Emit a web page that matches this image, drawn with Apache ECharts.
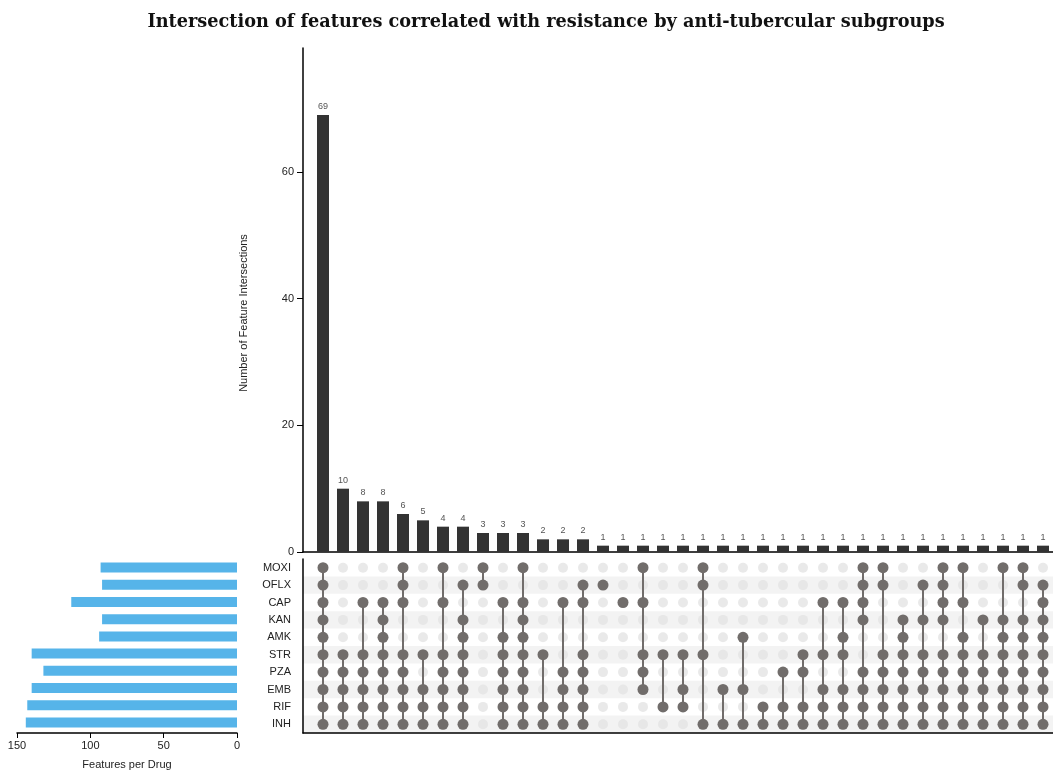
<!DOCTYPE html>
<html>
<head>
<meta charset="utf-8">
<script src="https://cdn.jsdelivr.net/npm/echarts@6/dist/echarts.min.js"></script>
<style>
  html, body { margin: 0; padding: 0; background: #fff; }
  #chart { width: 1053px; height: 771px; }
</style>
</head>
<body>
<div id="chart"></div>
<script>
// ---- data ----
const drugs = ['MOXI','OFLX','CAP','KAN','AMK','STR','PZA','EMB','RIF','INH'];
const drugTotals = [93, 92, 113, 92, 94, 140, 132, 140, 143, 144];
const intersectionSizes = [69,10,8,8,6,5,4,4,3,3,3,2,2,2,
  1,1,1,1,1,1,1,1,1,1,1,1,1,1,1,1,1,1,1,1,1,1,1];
const intersectionSets = [
  ['MOXI','OFLX','CAP','KAN','AMK','STR','PZA','EMB','RIF','INH'],
  ['STR','PZA','EMB','RIF','INH'],
  ['CAP','STR','PZA','EMB','RIF','INH'],
  ['CAP','KAN','AMK','STR','PZA','EMB','RIF','INH'],
  ['MOXI','OFLX','CAP','STR','PZA','EMB','RIF','INH'],
  ['STR','EMB','RIF','INH'],
  ['MOXI','CAP','STR','PZA','EMB','RIF','INH'],
  ['OFLX','KAN','AMK','STR','PZA','EMB','RIF','INH'],
  ['MOXI','OFLX'],
  ['CAP','AMK','STR','PZA','EMB','RIF','INH'],
  ['MOXI','CAP','KAN','AMK','STR','PZA','EMB','RIF','INH'],
  ['STR','RIF','INH'],
  ['CAP','PZA','EMB','RIF','INH'],
  ['OFLX','CAP','STR','PZA','EMB','RIF','INH'],
  ['OFLX'],
  ['CAP'],
  ['MOXI','CAP','STR','PZA','EMB'],
  ['STR','RIF'],
  ['STR','EMB','RIF'],
  ['MOXI','OFLX','STR','INH'],
  ['EMB','INH'],
  ['AMK','EMB','INH'],
  ['RIF','INH'],
  ['PZA','RIF','INH'],
  ['STR','PZA','RIF','INH'],
  ['CAP','STR','EMB','RIF','INH'],
  ['CAP','AMK','STR','EMB','RIF','INH'],
  ['MOXI','OFLX','CAP','KAN','PZA','EMB','RIF','INH'],
  ['MOXI','OFLX','STR','PZA','EMB','RIF','INH'],
  ['KAN','AMK','STR','PZA','EMB','RIF','INH'],
  ['OFLX','KAN','STR','PZA','EMB','RIF','INH'],
  ['MOXI','OFLX','CAP','KAN','STR','PZA','EMB','RIF','INH'],
  ['MOXI','CAP','AMK','STR','PZA','EMB','RIF','INH'],
  ['KAN','STR','PZA','EMB','RIF','INH'],
  ['MOXI','KAN','AMK','STR','PZA','EMB','RIF','INH'],
  ['MOXI','OFLX','KAN','AMK','STR','PZA','EMB','RIF','INH'],
  ['OFLX','CAP','KAN','AMK','STR','PZA','EMB','RIF','INH']
];
const topTicks = [0, 20, 40, 60];
const leftTicks = [0, 50, 100, 150];

// ---- build options ----
const DOT = '#716d6b';
const LIGHT = '#e3e3e3';
const FONT = 'Liberation Sans, Arial, sans-serif';
const nCols = intersectionSizes.length;

const barData = intersectionSizes.map((v, i) => [i, v]);
const lightDots = [];
for (let i = 0; i < nCols; i++) for (const d of drugs) lightDots.push([i, d]);

const series = [
  {
    type: 'bar', xAxisIndex: 0, yAxisIndex: 0,
    data: barData, barWidth: 12,
    itemStyle: { color: '#333333' },
    label: { show: true, position: 'top', distance: 4, fontSize: 9, color: '#555', fontFamily: FONT },
    silent: true
  },
  {
    type: 'scatter', xAxisIndex: 1, yAxisIndex: 1,
    data: lightDots, symbolSize: 10,
    itemStyle: { color: LIGHT }, silent: true, z: 2
  },
  {
    type: 'bar', xAxisIndex: 2, yAxisIndex: 2,
    data: drugTotals, barWidth: 10,
    itemStyle: { color: '#56b4e9' }, silent: true
  }
];
intersectionSets.forEach((set, i) => {
  const pts = drugs.filter(d => set.includes(d)).map(d => [i, d]);
  series.push({
    type: 'line', xAxisIndex: 1, yAxisIndex: 1,
    data: pts, symbol: 'circle', symbolSize: 11, showSymbol: true,
    lineStyle: { color: DOT, width: 2 },
    itemStyle: { color: DOT, borderWidth: 0 },
    silent: true, animation: false, z: 3
  });
});

const option = {
  animation: false,
  title: {
    text: 'Intersection of features correlated with resistance by anti-tubercular subgroups',
    left: 541, top: 8, textAlign: 'center',
    textStyle: { fontFamily: 'DejaVu Serif, serif', fontWeight: 'bold', fontSize: 17.7, color: '#111' }
  },
  grid: [
    { left: 303, top: 48, width: 750, height: 504 },
    { left: 303, top: 559, width: 750, height: 174 },
    { left: 17, top: 559, width: 220, height: 174 }
  ],
  xAxis: [
    { gridIndex: 0, type: 'value', min: -1, max: 36.5,
      axisLine: { show: true, onZero: false, lineStyle: { color: '#000', width: 1.5 } },
      axisTick: { show: false }, axisLabel: { show: false }, splitLine: { show: false } },
    { gridIndex: 1, type: 'value', min: -1, max: 36.5,
      axisLine: { show: true, onZero: false, lineStyle: { color: '#000', width: 1.5 } },
      axisTick: { show: false }, axisLabel: { show: false }, splitLine: { show: false } },
    { gridIndex: 2, type: 'value', min: 0, max: 150, interval: 50, inverse: true, offset: 2,
      name: 'Features per Drug', nameLocation: 'middle', nameGap: 26,
      nameTextStyle: { fontFamily: FONT, fontSize: 11, color: '#222' },
      axisLine: { show: true, onZero: false, lineStyle: { color: '#000', width: 1.5 } },
      axisTick: { show: true, length: 5, lineStyle: { color: '#000' }, customValues: leftTicks },
      axisLabel: { fontFamily: FONT, fontSize: 11, color: '#222', margin: 7, customValues: leftTicks },
      splitLine: { show: false } }
  ],
  yAxis: [
    { gridIndex: 0, type: 'value', min: 0, max: 79.6,
      name: 'Number of Feature Intersections', nameLocation: 'middle', nameGap: 54,
      nameTextStyle: { fontFamily: FONT, fontSize: 11, color: '#222', padding: [0, 26, 0, 0] },
      axisLine: { show: true, onZero: false, lineStyle: { color: '#000', width: 1.5 } },
      axisTick: { show: true, length: 6, lineStyle: { color: '#000' }, customValues: topTicks },
      axisLabel: { fontFamily: FONT, fontSize: 11, color: '#222', margin: 9, customValues: topTicks },
      splitLine: { show: false } },
    { gridIndex: 1, type: 'category', data: drugs, inverse: true,
      axisLine: { show: true, onZero: false, lineStyle: { color: '#000', width: 1.5 } },
      axisTick: { show: false },
      axisLabel: { fontFamily: FONT, fontSize: 11, color: '#222', margin: 12 },
      splitArea: { show: true, areaStyle: { color: ['rgba(255,255,255,0)', '#f3f3f3'] } },
      splitLine: { show: false } },
    { gridIndex: 2, type: 'category', data: drugs, inverse: true,
      axisLine: { show: false }, axisTick: { show: false }, axisLabel: { show: false },
      splitLine: { show: false } }
  ],
  series: series
};

const chart = echarts.init(document.getElementById('chart'), null, { renderer: 'canvas' });
chart.setOption(option);
</script>
</body>
</html>
